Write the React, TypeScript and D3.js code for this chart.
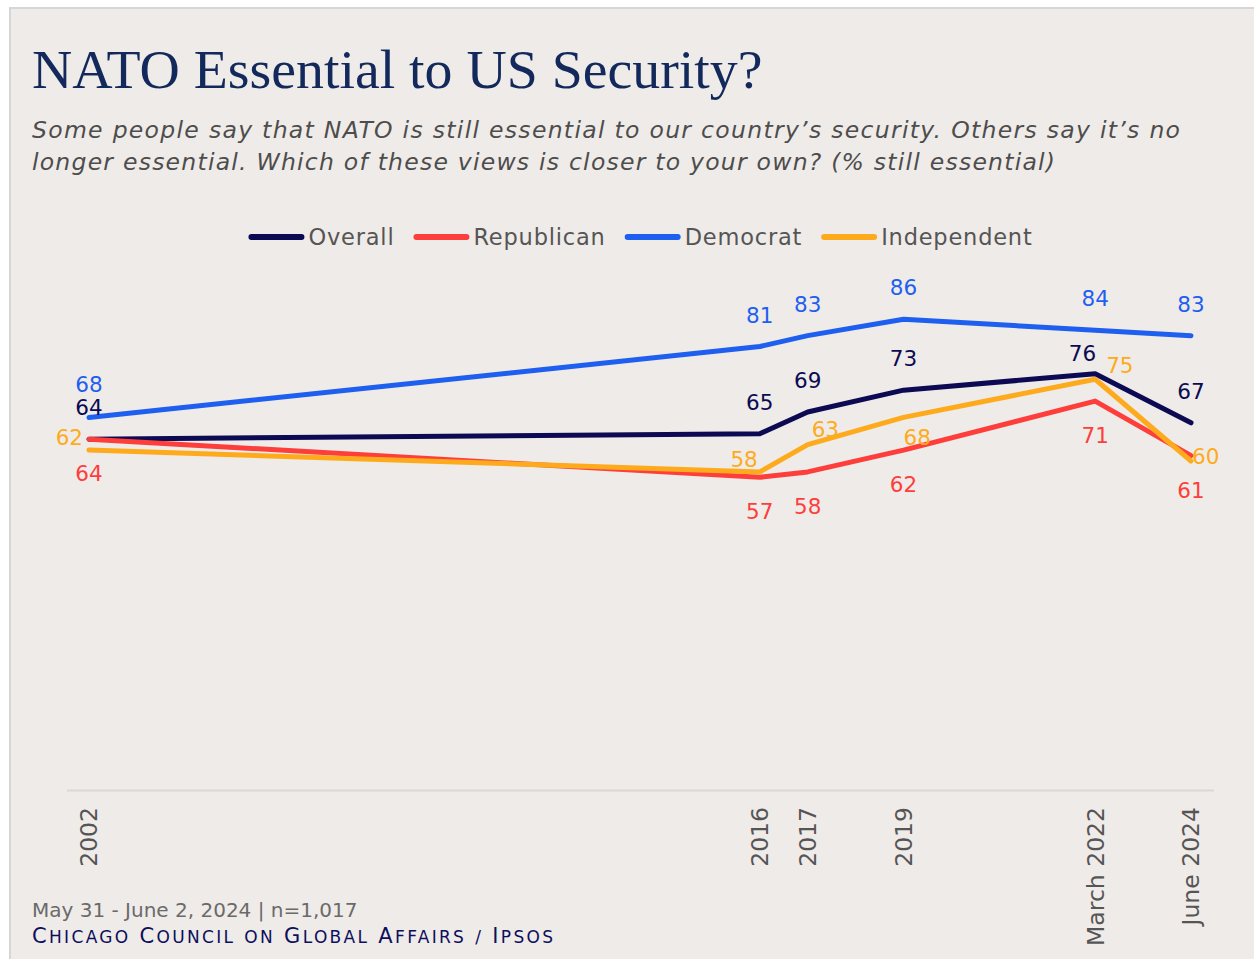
import React from 'react';
import * as d3 from 'd3';

// ---------- data ----------
const xLabels = ['2002', '2016', '2017', '2019', 'March 2022', 'June 2024'];
// position of each survey on the chart's (year-based) x axis
const xPositions = [2002, 2016, 2017, 2019, 2023, 2025];
const overall = [64, 65, 69, 73, 76, 67];
const republican = [64, 57, 58, 62, 71, 61];
const democrat = [68, 81, 83, 86, 84, 83];
const independent = [62, 58, 63, 68, 75, 60];
const seriesNames = ['Overall', 'Republican', 'Democrat', 'Independent'];

const title = 'NATO Essential to US Security?';
const subtitleLines = [
  'Some people say that NATO is still essential to our country\u2019s security. Others say it\u2019s no',
  'longer essential. Which of these views is closer to your own? (% still essential)',
];
const footnote = 'May 31 - June 2, 2024 | n=1,017';
const source = 'Chicago Council on Global Affairs / Ipsos';

// ---------- styles ----------
const seriesColors = ['#0b0a52', '#fe3e3b', '#1e5ff0', '#fdab1d'];
const FONT = "'DejaVu Sans', 'Open Sans', sans-serif";
const subtitleWidths = [1148, 1023];

type Place = { dx: number; dy: number; anchor: 'start' | 'middle' | 'end' };
const A: Place = { dx: 0, dy: -24, anchor: 'middle' };
const B: Place = { dx: 0, dy: 42, anchor: 'middle' };
const labelPlaces: Place[][] = [
  [A, A, A, A, { dx: 1, dy: -13, anchor: 'end' }, A],
  [B, B, B, B, B, B],
  [{ dx: 0, dy: -25, anchor: 'middle' }, A, A, A, A, A],
  [
    { dx: -6, dy: -5, anchor: 'end' },
    { dx: -2, dy: -5, anchor: 'end' },
    { dx: 4, dy: -8, anchor: 'start' },
    { dx: 0, dy: 28, anchor: 'start' },
    { dx: 11, dy: -6, anchor: 'start' },
    { dx: 1, dy: 3, anchor: 'start' },
  ],
];

function measure(text: string, font: string, spacing = 0): number {
  const c = document.createElement('canvas').getContext('2d');
  if (!c) return text.length * 12;
  c.font = font;
  return c.measureText(text).width + spacing * text.length;
}

export default function App() {
  const W = 1254;
  const H = 959;
  const x = d3.scaleLinear().domain([2002, 2025]).range([89, 1191]);
  const y = d3.scaleLinear().domain([0, 100]).range([788, 243]);
  const allSeries = [overall, republican, democrat, independent];

  const line = d3
    .line<number>()
    .x((_, i) => x(xPositions[i]))
    .y((d) => y(d));

  // legend layout
  const legSize = 22.5;
  const legSpacing = 0.8;
  const legFont = `${legSize}px 'DejaVu Sans'`;
  const swatch = 56;
  const gap = 4;
  const itemGap = 19;
  const widths = seriesNames.map((n) => swatch + gap + measure(n, legFont, legSpacing));
  const total = d3.sum(widths) + itemGap * (seriesNames.length - 1);
  let cx = 640.5 - total / 2;
  const legendItems = seriesNames.map((n, i) => {
    const item = { name: n, x: cx, color: seriesColors[i] };
    cx += widths[i] + itemGap;
    return item;
  });

  const sourceWords = source.split(' ');

  return (
    <svg
      width={W}
      height={H}
      style={{ position: 'absolute', left: 0, top: 0, display: 'block' }}
      fontFamily={FONT}
    >
      <rect x={0} y={0} width={W} height={H} fill="#ffffff" />
      <rect x={10} y={8} width={W + 20} height={H + 20} fill="#efebe8" stroke="#d6d6d6" strokeWidth={2} />

      <text x={32} y={88} fontFamily="'Liberation Serif', 'DejaVu Serif', serif" fontSize={55.8} fill="#13295b">
        {title}
      </text>
      {subtitleLines.map((t, i) => (
        <text
          key={i}
          x={32}
          y={138 + i * 32}
          fontSize={23.5}
          fontStyle="italic"
          fill="#4d4d4d"
          textLength={subtitleWidths[i]}
          lengthAdjust="spacing"
        >
          {t}
        </text>
      ))}

      {/* legend */}
      {legendItems.map((it) => (
        <g key={it.name}>
          <line
            x1={it.x + 3}
            x2={it.x + swatch - 3}
            y1={237}
            y2={237}
            stroke={it.color}
            strokeWidth={6}
            strokeLinecap="round"
          />
          <text x={it.x + swatch + gap} y={245} fontSize={legSize} letterSpacing={legSpacing} fill="#555555">
            {it.name}
          </text>
        </g>
      ))}

      {/* axis baseline */}
      <line x1={67} x2={1214} y1={790.5} y2={790.5} stroke="#dad7d4" strokeWidth={2} />

      {/* x tick labels */}
      {xLabels.map((l, i) => (
        <text
          key={l}
          transform={`translate(${x(xPositions[i])},807) rotate(-90)`}
          textAnchor="end"
          dy="0.36em"
          fontSize={23.5}
          fill="#555555"
        >
          {l}
        </text>
      ))}

      {/* lines */}
      {allSeries.map((s, si) => (
        <path
          key={seriesNames[si]}
          d={line(s) || ''}
          fill="none"
          stroke={seriesColors[si]}
          strokeWidth={5}
          strokeLinecap="round"
          strokeLinejoin="round"
        />
      ))}

      {/* data labels */}
      {allSeries.map((s, si) =>
        s.map((v, i) => {
          const p = labelPlaces[si][i];
          return (
            <text
              key={`${si}-${i}`}
              x={x(xPositions[i]) + p.dx}
              y={y(v) + p.dy}
              textAnchor={p.anchor}
              fontSize={21.5}
              fill={seriesColors[si]}
            >
              {v}
            </text>
          );
        })
      )}

      {/* footer */}
      <text x={32} y={917} fontSize={20} fill="#6a6a6a">
        {footnote}
      </text>
      <text x={32} y={943} fill="#0d0f5c" fontSize={21} textLength={521} lengthAdjust="spacing">
        {sourceWords.map((w, i) => {
          const first = w.charAt(0);
          const rest = w.slice(1).toUpperCase();
          const isCap = first === first.toUpperCase() && /[A-Za-z]/.test(first);
          return (
            <tspan key={i}>
              {i > 0 ? ' ' : ''}
              {isCap ? (
                <>
                  <tspan fontSize={21}>{first}</tspan>
                  <tspan fontSize={17}>{rest}</tspan>
                </>
              ) : (
                <tspan fontSize={17}>{w.toUpperCase()}</tspan>
              )}
            </tspan>
          );
        })}
      </text>
    </svg>
  );
}
